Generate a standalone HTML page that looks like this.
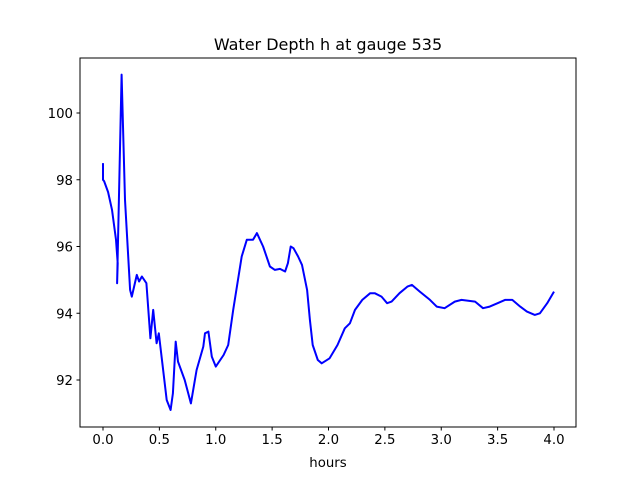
<!DOCTYPE html>
<html><head><meta charset="utf-8"><style>
body{margin:0;background:#fff}
svg{display:block;font-family:"DejaVu Sans","Liberation Sans",sans-serif}
</style></head><body>
<svg id="chart" width="640" height="480">
<rect width="640" height="480" fill="#fff"/>
<text x="328" y="50" font-size="16" text-anchor="middle">Water Depth h at gauge 535</text>
<text x="328" y="467" font-size="13.3" text-anchor="middle">hours</text>
<g id="ticks"></g>
<path id="line" fill="none" stroke="#0000ff" stroke-width="2" stroke-linejoin="round"/>
<rect x="80" y="58" width="496" height="369" fill="none" stroke="#000" stroke-width="1"/>
</svg>
<script>
const hours=[0,0,0.01,0.045,0.08,0.115,0.13,0.125,0.165,0.195,0.24,0.255,0.3,0.32,0.345,0.385,0.42,0.445,0.475,0.495,0.565,0.6,0.62,0.645,0.665,0.725,0.78,0.83,0.89,0.905,0.935,0.965,1.0,1.07,1.11,1.155,1.23,1.275,1.33,1.365,1.42,1.48,1.525,1.57,1.615,1.64,1.665,1.69,1.73,1.765,1.81,1.835,1.86,1.905,1.94,2.01,2.08,2.145,2.19,2.235,2.3,2.37,2.41,2.47,2.52,2.56,2.63,2.7,2.74,2.81,2.9,2.96,3.03,3.12,3.18,3.3,3.37,3.43,3.5,3.565,3.63,3.7,3.76,3.83,3.875,3.94,4.0];
const depth=[98.5,98.0,97.96,97.63,97.1,96.2,95.5,94.9,101.15,97.4,94.7,94.5,95.15,94.95,95.1,94.9,93.25,94.1,93.1,93.4,91.4,91.1,91.6,93.15,92.55,92.0,91.3,92.3,93.0,93.4,93.45,92.7,92.4,92.75,93.05,94.1,95.7,96.2,96.2,96.4,96.0,95.4,95.3,95.33,95.25,95.5,96.0,95.95,95.7,95.45,94.7,93.8,93.05,92.6,92.5,92.65,93.05,93.55,93.7,94.1,94.4,94.6,94.6,94.5,94.3,94.35,94.6,94.8,94.85,94.65,94.4,94.2,94.15,94.35,94.4,94.35,94.15,94.2,94.3,94.4,94.4,94.2,94.05,93.95,94.0,94.3,94.65];
const xTicks=[0.0,0.5,1.0,1.5,2.0,2.5,3.0,3.5,4.0];
const yTicks=[92,94,96,98,100];
const X=v=>103+v*112.75, Y=v=>113-(v-100)*33.375;
const NS="http://www.w3.org/2000/svg";
const g=document.getElementById('ticks');
function mk(t,a){const e=document.createElementNS(NS,t);for(const k in a)e.setAttribute(k,a[k]);g.appendChild(e);return e;}
xTicks.forEach(v=>{
 const l=mk('line',{x1:X(v),x2:X(v),y1:427,y2:430.5,stroke:'#000'});
 
 
 const t=mk('text',{x:X(v),y:444,'font-size':13.3,'text-anchor':'middle'});
 t.textContent=v.toFixed(1);
 
 
});
yTicks.forEach(v=>{
 const l=mk('line',{x1:76.5,x2:80,y1:Y(v),y2:Y(v),stroke:'#000'});
 
 
 const t=mk('text',{x:73,y:Y(v)+5,'font-size':13.3,'text-anchor':'end'});
 t.textContent=v;
 
 
});
document.getElementById('line').setAttribute('d',hours.map((h,i)=>(i?'L':'M')+X(h).toFixed(1)+','+Y(depth[i]).toFixed(1)).join(''));
</script>
</body></html>
